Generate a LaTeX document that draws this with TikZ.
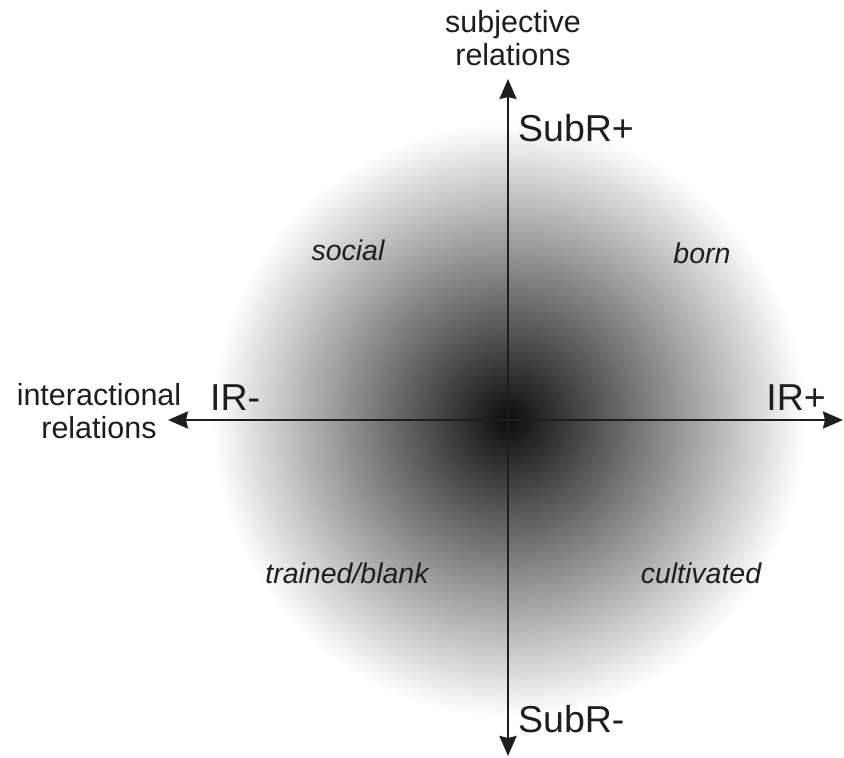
\documentclass[tikz,border=0pt]{standalone}
\usepackage{fontspec}
\setmainfont{Liberation Sans}
\usetikzlibrary{arrows.meta}
\usetikzlibrary{positioning}

\definecolor{inkgray}{HTML}{1E1E1E}
\tikzset{
    axis/.style={line width=2.6pt, draw=inkgray, {Stealth[length=20pt,width=17pt,inset=2pt]}-{Stealth[length=20pt,width=17pt,inset=2pt]}},
    axislabel/.style={text=inkgray, align=center, font=\fontsize{30.5}{33}\selectfont},
    pole/.style={text=inkgray, inner sep=0pt, font=\fontsize{37.5}{40}\selectfont},
    quadrant/.style={text=inkgray, inner sep=0pt, font=\fontsize{28.5}{30}\selectfont\itshape}
}

\begin{document}
\begin{tikzpicture}[x=1pt, y=-1pt]
    \useasboundingbox (0,0) rectangle (844,758);
    % shaded disc
    \shade [inner color=black!95, outer color=white] (509,420) circle (297);
    % axes
    \coordinate (top) at (508,79);
    \coordinate (bottom) at (508,756);
    \coordinate (left) at (168,420);
    \coordinate (right) at (843,420);
    \draw [axis] (bottom) -- (top);
    \draw [axis] (left) -- (right);
    % axis names
    \node [axislabel] (subj) at (513,38) {subjective\\relations};
    \node [axislabel] (inter) at (99,411) {interactional\\relations};
    % poles
    \node [pole, anchor=west] (subplus) at (518,128) {SubR+};
    \node [pole, anchor=west] (subminus) at (518,719) {SubR-};
    \node [pole, anchor=west] (irminus) at (210,398) {IR-};
    \node [pole, anchor=east] (irplus) at (826,398) {IR+};
    % quadrants
    \node [quadrant] (social) at (348,250) {social};
    \node [quadrant] (born) at (702,253) {born};
    \node [quadrant] (trained) at (347,573) {trained/blank};
    \node [quadrant] (cultivated) at (701,573) {cultivated};
\end{tikzpicture}
\end{document}
